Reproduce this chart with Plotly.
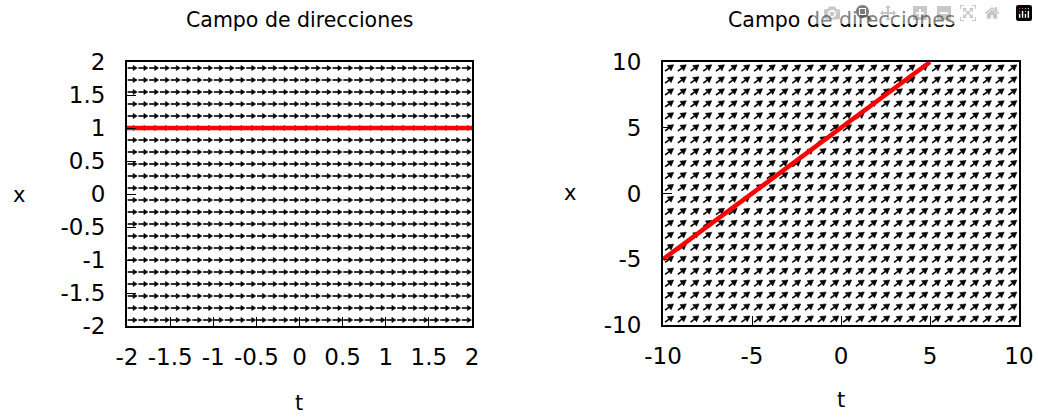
import numpy as np
import plotly.graph_objects as go

# ---------------- data ----------------
# left panel: dx/dt = 0 on [-2,2]x[-2,2]
left_t = [-2 + (i + 0.5) * 4 / 32 for i in range(32)]
left_x = [-2 + (j + 0.5) * 4 / 22 for j in range(22)]
left_slope = 0.0
left_sol_t = [-2, 2]
left_sol_x = [1, 1]

# right panel: dx/dt = 1 on [-10,10]x[-10,10]
right_t = [-10 + (i + 0.5) * 20 / 28 for i in range(28)]
right_x = [-10 + (j + 0.5) * 20 / 22 for j in range(22)]
right_slope = 1.0
right_sol_t = [-10, 5]
right_sol_x = [-5, 10]

left_ticks = [-2, -1.5, -1, -0.5, 0, 0.5, 1, 1.5, 2]
left_ticktext = ["-2", "-1.5", "-1", "-0.5", "0", "0.5", "1", "1.5", "2"]
right_ticks = [-10, -5, 0, 5, 10]
right_ticktext = ["-10", "-5", "0", "5", "10"]

title_text = "Campo de direcciones"

# ---------------- layout geometry ----------------
W, H = 1038, 417
L_px = (127, 472, 62, 326)   # x0, x1, ytop, ybottom
R_px = (663, 1019, 62, 325)
FONT = "DejaVu Sans"


def field(ts, xs, slope, trange, xrange_, px, L, hl, hw):
    sx = (px[1] - px[0]) / (trange[1] - trange[0])
    sy = (px[3] - px[2]) / (xrange_[1] - xrange_[0])
    shx, shy, hx, hy = [], [], [], []
    for t in ts:
        for x in xs:
            ux, uy = 1.0 * sx, slope * sy
            n = np.hypot(ux, uy)
            ux, uy = ux / n, uy / n
            tail = (-ux * L / 2, -uy * L / 2)
            tip = (ux * L / 2, uy * L / 2)
            base = (tip[0] - ux * hl, tip[1] - uy * hl)
            nx, ny = -uy, ux
            shx += [t + tail[0] / sx, t + base[0] / sx, None]
            shy += [x + tail[1] / sy, x + base[1] / sy, None]
            pts = [tip, (base[0] + nx * hw, base[1] + ny * hw),
                   (base[0] - nx * hw, base[1] - ny * hw), tip]
            hx += [t + p[0] / sx for p in pts] + [None]
            hy += [x + p[1] / sy for p in pts] + [None]
    return shx, shy, hx, hy


fig = go.Figure()

# left field
shx, shy, hx, hy = field(left_t, left_x, left_slope, (-2, 2), (-2, 2), L_px, 9.5, 4, 2.5)
fig.add_trace(go.Scatter(x=shx, y=shy, mode="lines", line=dict(color="black", width=1.6),
                         xaxis="x", yaxis="y", hoverinfo="skip", showlegend=False))
fig.add_trace(go.Scatter(x=hx, y=hy, mode="lines", fill="toself", fillcolor="black",
                         line=dict(color="black", width=0.6), xaxis="x", yaxis="y",
                         hoverinfo="skip", showlegend=False))
fig.add_trace(go.Scatter(x=left_sol_t, y=left_sol_x, mode="lines", line=dict(color="#ff0000", width=4.5),
                         xaxis="x", yaxis="y", showlegend=False))

# right field
shx, shy, hx, hy = field(right_t, right_x, right_slope, (-10, 10), (-10, 10), R_px, 10.5, 5.5, 3.2)
fig.add_trace(go.Scatter(x=shx, y=shy, mode="lines", line=dict(color="black", width=1.6),
                         xaxis="x2", yaxis="y2", hoverinfo="skip", showlegend=False))
fig.add_trace(go.Scatter(x=hx, y=hy, mode="lines", fill="toself", fillcolor="black",
                         line=dict(color="black", width=0.6), xaxis="x2", yaxis="y2",
                         hoverinfo="skip", showlegend=False))
fig.add_trace(go.Scatter(x=right_sol_t, y=right_sol_x, mode="lines", line=dict(color="#ff0000", width=4.5),
                         xaxis="x2", yaxis="y2", showlegend=False))

tickfont = dict(family=FONT, size=23, color="black")
ax_common = dict(showgrid=False, zeroline=False, showline=True, mirror=True, linecolor="black",
                 linewidth=2, ticks="inside", ticklen=9, tickcolor="black", tickwidth=1,
                 tickfont=tickfont, automargin=False, ticklabeloverflow="allow")

fig.update_layout(
    width=W, height=H, margin=dict(l=0, r=0, t=0, b=0, autoexpand=False),
    paper_bgcolor="white", plot_bgcolor="white", showlegend=False,
    xaxis=dict(domain=[L_px[0] / W, L_px[1] / W], range=[-2, 2], tickvals=left_ticks,
               ticktext=left_ticktext, anchor="y", ticklabelstandoff=9, **ax_common),
    yaxis=dict(domain=[1 - L_px[3] / H, 1 - L_px[2] / H], range=[-2, 2], tickvals=left_ticks,
               ticktext=left_ticktext, anchor="x", ticklabelstandoff=15, **ax_common),
    xaxis2=dict(domain=[R_px[0] / W, R_px[1] / W], range=[-10, 10], tickvals=right_ticks,
                ticktext=right_ticktext, anchor="y2", ticklabelstandoff=9, **ax_common),
    yaxis2=dict(domain=[1 - R_px[3] / H, 1 - R_px[2] / H], range=[-10, 10], tickvals=right_ticks,
                ticktext=right_ticktext, anchor="x2", ticklabelstandoff=15, **ax_common),
)

titlefont = dict(family=FONT, size=20.5, color="black")
labfont = dict(family=FONT, size=21, color="black")
ann = [
    dict(text=title_text, x=299 / W, y=1 - 20 / H, font=titlefont),
    dict(text=title_text, x=841 / W, y=1 - 20 / H, font=titlefont),
    dict(text="t", x=299 / W, y=1 - 403 / H, font=labfont),
    dict(text="t", x=841 / W, y=1 - 400 / H, font=labfont),
    dict(text="x", x=19 / W, y=1 - 195 / H, font=labfont),
    dict(text="x", x=570 / W, y=1 - 193 / H, font=labfont),
]
for a in ann:
    fig.add_annotation(xref="paper", yref="paper", showarrow=False, xanchor="center",
                       yanchor="middle", **a)

fig.write_html("out.html",
               post_script="document.body.style.margin='0';"
                           "document.documentElement.style.overflow='hidden';"
                           "document.body.style.overflow='hidden';")
